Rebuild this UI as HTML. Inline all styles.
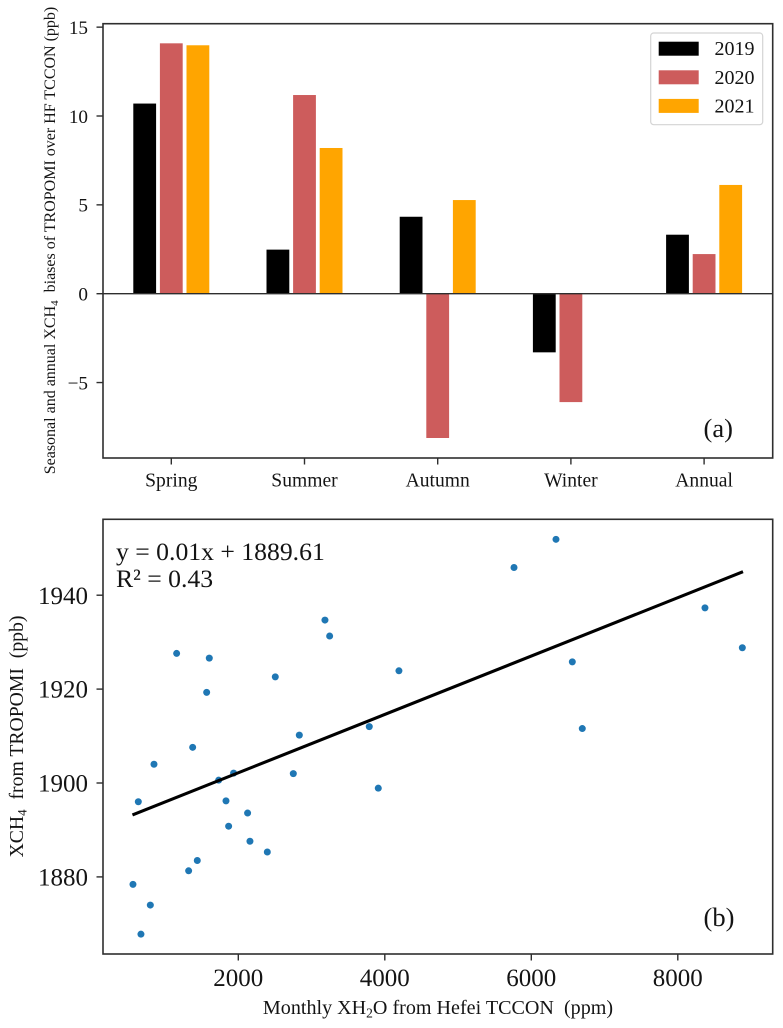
<!DOCTYPE html>
<html>
<head>
<meta charset="utf-8">
<style>
html,body{margin:0;padding:0;background:#fff;}
svg{display:block;}
text{font-family:"Liberation Serif",serif;fill:#141414;white-space:pre;}
</style>
</head>
<body>
<svg id="fig" width="783" height="1028" viewBox="0 0 783 1028" xmlns="http://www.w3.org/2000/svg">
  <rect x="0" y="0" width="783" height="1028" fill="#fff"/>
  <g id="panelA"></g>
  <g id="panelB"></g>

  <text transform="translate(55 240.5) rotate(-90)" text-anchor="middle" font-size="16">Seasonal and annual XCH<tspan font-size="11" dy="3">4</tspan><tspan dy="-3">  biases of TROPOMI over HF TCCON (ppb)</tspan></text>
  <text x="438" y="1014" text-anchor="middle" font-size="20.1">Monthly XH<tspan font-size="13.5" dy="3.5">2</tspan><tspan dy="-3.5">O from Hefei TCCON  (ppm)</tspan></text>
  <text transform="translate(23 736.5) rotate(-90)" text-anchor="middle" font-size="19.7">XCH<tspan font-size="13" dy="3.5">4</tspan><tspan dy="-3.5">  from TROPOMI  (ppb)</tspan></text>
  <text x="703.5" y="437" font-size="26.5">(a)</text>
  <text x="703.5" y="926" font-size="26.5">(b)</text>
  <text x="116" y="560" font-size="25.7">y = 0.01x + 1889.61</text>
  <text x="116" y="587" font-size="25.7">R² = 0.43</text>
</svg>
<script>
// Panel (a) data
const seasons = ["Spring", "Summer", "Autumn", "Winter", "Annual"];
const years = ["2019", "2020", "2021"];
const yearColors = ["#000000", "#cd5c5c", "#ffa500"];
const bias2019 = [10.7, 2.48, 4.33, -3.3, 3.32];
const bias2020 = [14.09, 11.18, -8.12, -6.1, 2.23];
const bias2021 = [13.98, 8.2, 5.27, 0, 6.12];
const biasTicks = [15, 10, 5, 0, -5];

// Panel (b) data
const xh2o = [562, 635, 671, 799, 849, 1158, 1322, 1377, 1440, 1568, 1604, 1732, 1832, 1868, 1936, 2127, 2159, 2396, 2505, 2751, 2833, 3183, 3247, 3788, 3911, 4193, 5764, 6337, 6560, 6696, 8371, 8881];
const xch4 = [1878.4, 1896.0, 1867.8, 1874.0, 1904.0, 1927.6, 1881.3, 1907.6, 1883.5, 1919.3, 1926.6, 1900.6, 1896.2, 1890.8, 1902.1, 1893.6, 1887.6, 1885.3, 1922.6, 1902.0, 1910.2, 1934.7, 1931.3, 1912.0, 1898.9, 1923.9, 1945.9, 1951.9, 1925.8, 1911.6, 1937.3, 1928.8];
const fitX = [555, 8890];
const fitY = [1893.2, 1945];
const xTicksB = [2000, 4000, 6000, 8000];
const yTicksB = [1880, 1900, 1920, 1940];

const NS = "http://www.w3.org/2000/svg";
const AX = "#2e2e2e";
function make(parent, tag, attrs, txt) {
  const el = document.createElementNS(NS, tag);
  for (const k in attrs) el.setAttribute(k, attrs[k]);
  if (txt !== undefined) el.textContent = txt;
  parent.appendChild(el);
  return el;
}

// Panel (a) axes functions
const aBox = {l: 103, r: 772.7, t: 23.7, b: 458};
const yA = v => 293.7 - v * 17.77;
const xA = i => 171.3 + i * 133.2;
const gA = document.getElementById("panelA");
const barW = 22.8, barStep = 26.6;
const allBias = [bias2019, bias2020, bias2021];

allBias.forEach((series, s) => {
  series.forEach((v, i) => {
    const cx = xA(i) + (s - 1) * barStep;
    const top = Math.min(yA(v), yA(0));
    const bar = make(gA, "rect", {x: cx - barW / 2, y: top, width: barW, height: Math.abs(yA(v) - yA(0)), fill: yearColors[s]});
    
    
  });
});

const zeroLine = make(gA, "line", {x1: aBox.l, x2: aBox.r, y1: yA(0), y2: yA(0), stroke: AX, "stroke-width": 1.4});



const frameA = make(gA, "rect", {x: aBox.l, y: aBox.t, width: aBox.r - aBox.l, height: aBox.b - aBox.t, fill: "none", stroke: AX, "stroke-width": 1.6});



biasTicks.forEach(t => {
  const tick = make(gA, "line", {x1: aBox.l - 6.5, x2: aBox.l, y1: yA(t), y2: yA(t), stroke: AX, "stroke-width": 1.4});
  
  
  const label = make(gA, "text", {x: 88, y: yA(t) + 6.8, "text-anchor": "end", "font-size": 19.2}, String(t).replace("-", "\u2212"));
  
  
});

seasons.forEach((name, i) => {
  const tick = make(gA, "line", {x1: xA(i), x2: xA(i), y1: aBox.b, y2: aBox.b + 6.5, stroke: AX, "stroke-width": 1.4});
  
  
  const label = make(gA, "text", {x: xA(i), y: 486.7, "text-anchor": "middle", "font-size": 19.6}, name);
  
  
});

// Legend
const legend = make(gA, "g", {});


const legendBox = make(legend, "rect", {x: 650.7, y: 33, width: 112, height: 91.7, rx: 3, fill: "#fff", stroke: "#d4d4d4", "stroke-width": 1.2});


years.forEach((yr, s) => {
  const swatch = make(legend, "rect", {x: 658.7, y: 41.7 + s * 28.6, width: 40, height: 14, fill: yearColors[s]});
  
  
  const label = make(legend, "text", {x: 714.5, y: 55 + s * 28.8, "font-size": 20}, yr);
  
  
});

// Panel (b) axes functions
const bBox = {l: 103, r: 772.7, t: 519.3, b: 954};
const xB = v => 238.3 + (v - 2000) * 0.07325;
const yB = v => 783 - (v - 1900) * 4.695;
const gB = document.getElementById("panelB");

xh2o.forEach((v, i) => {
  const dot = make(gB, "circle", {cx: xB(v), cy: yB(xch4[i]), r: 3.5, fill: "#1f77b4"});
  
  
});

const fit = make(gB, "line", {x1: xB(fitX[0]), y1: yB(fitY[0]), x2: xB(fitX[1]), y2: yB(fitY[1]), stroke: "#000", "stroke-width": 3.1});



const frameB = make(gB, "rect", {x: bBox.l, y: bBox.t, width: bBox.r - bBox.l, height: bBox.b - bBox.t, fill: "none", stroke: AX, "stroke-width": 1.6});



xTicksB.forEach(t => {
  const tick = make(gB, "line", {x1: xB(t), x2: xB(t), y1: bBox.b, y2: bBox.b + 6.5, stroke: AX, "stroke-width": 1.4});
  
  
  const label = make(gB, "text", {x: xB(t), y: 986, "text-anchor": "middle", "font-size": 25}, String(t));
  
  
});

yTicksB.forEach(t => {
  const tick = make(gB, "line", {x1: bBox.l - 6.5, x2: bBox.l, y1: yB(t), y2: yB(t), stroke: AX, "stroke-width": 1.4});
  
  
  const label = make(gB, "text", {x: 88, y: yB(t) + 8.6, "text-anchor": "end", "font-size": 25}, String(t));
  
  
});
</script>
</body>
</html>
